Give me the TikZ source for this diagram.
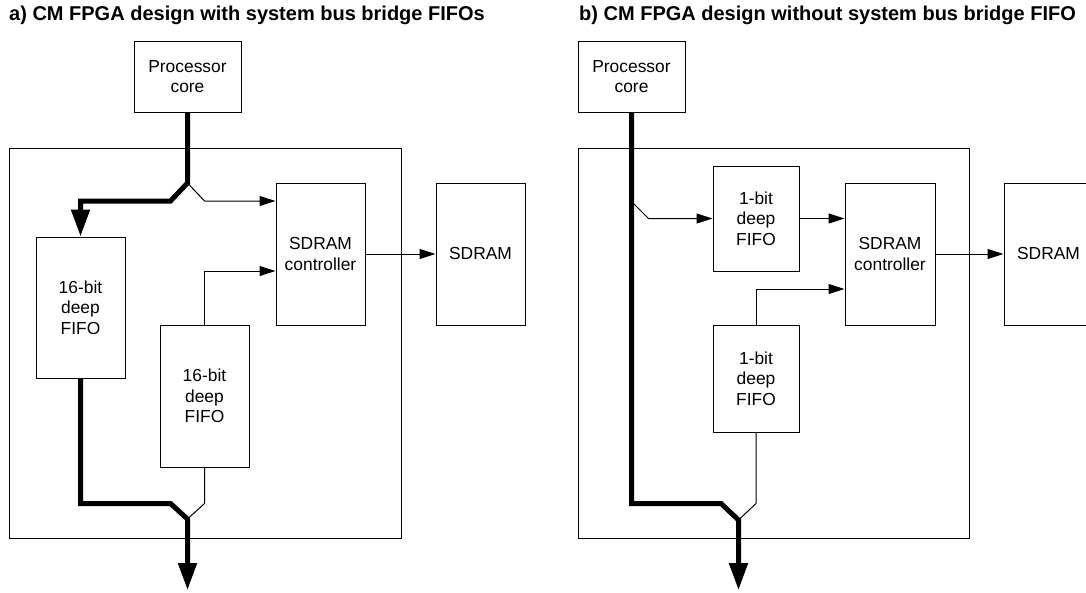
\documentclass[tikz,border=0pt]{standalone}
\usepackage{fontspec}
\setmainfont{Liberation Sans}
\usetikzlibrary{arrows.meta}

\begin{document}
\begin{tikzpicture}[x=1pt, y=-1pt,
    blk/.style={draw, rectangle, line width=1pt, inner sep=0pt, align=center,
        font=\fontsize{17.4}{20.5}\selectfont},
    ttl/.style={anchor=base west, inner sep=0pt, font=\bfseries\fontsize{20}{24}\selectfont},
    sig/.style={line width=1pt},
    bus/.style={line width=5pt},
    sigtip/.style={-{Triangle[length=16pt,width=10pt]}},
    bustip/.style={-{Triangle[length=27pt,width=18pt]}}]
    \path[use as bounding box, clip] (0,0) rectangle (1086,592);

    % a) with the bridge FIFOs
    \node[ttl] (ttlA) at (9,20) {a) CM FPGA design with system bus bridge FIFOs};
    \node[blk, minimum width=392pt, minimum height=390pt] (fpgaA) at (205,343) {};
    \node[blk, minimum width=107pt, minimum height=71pt] (procA) at (187.5,76.5) {Processor\\core};
    \node[blk, minimum width=89pt, minimum height=141pt] (fifoA1) at (80.5,307.5) {16-bit\\deep\\FIFO};
    \node[blk, minimum width=89pt, minimum height=142pt] (fifoA2) at (204.5,396) {16-bit\\deep\\FIFO};
    \node[blk, minimum width=89pt, minimum height=142pt] (ctrlA) at (320.5,254) {SDRAM\\controller};
    \node[blk, minimum width=89pt, minimum height=142pt] (ramA) at (480.5,254) {SDRAM};

    \coordinate (splitA) at (187.5,183);
    \coordinate (joinA) at (187.5,519);
    \coordinate (outA) at (187.5,590);

    \draw[bus, bustip] (procA.south) -- (splitA) -- ++(-17,18) -| (fifoA1.north);
    \draw[sig, sigtip] (splitA) -- ++(17,18) coordinate (tapA) -- (tapA -| ctrlA.west);
    \draw[sig, sigtip] (fifoA2.north) |- ([yshift=-17pt]ctrlA.west);
    \draw[sig, sigtip] (ctrlA.east) -- (ramA.west);
    % merge back onto the bus
    \draw[bus, bustip] (fifoA1.south) -- ++(0,125) -- ++(90,0) -- (joinA) -- (outA);
    \draw[sig] (fifoA2.south) -- ++(0,36) -- (joinA);

    % b) without them
    \node[ttl] (ttlB) at (579,20) {b) CM FPGA design without system bus bridge FIFO};
    \node[blk, minimum width=391pt, minimum height=390pt] (fpgaB) at (773.5,343) {};
    \node[blk, minimum width=107pt, minimum height=71pt] (procB) at (631.5,76.5) {Processor\\core};
    \node[blk, minimum width=86pt, minimum height=105pt] (fifoB1) at (756,218.5) {1-bit\\deep\\FIFO};
    \node[blk, minimum width=86pt, minimum height=107pt] (fifoB2) at (756,378.5) {1-bit\\deep\\FIFO};
    \node[blk, minimum width=90pt, minimum height=142pt] (ctrlB) at (890,254) {SDRAM\\controller};
    \node[blk, minimum width=89pt, minimum height=142pt] (ramB) at (1048.5,254) {SDRAM};

    \coordinate (tapB) at (631.5,201.5);
    \coordinate (joinB) at (738.5,520);
    \coordinate (outB) at (738.5,590);

    \draw[bus, bustip] (procB.south) -- ++(0,391) -- ++(89.5,0) -- (joinB) -- (outB);
    \draw[sig, sigtip] (tapB) -- ++(17,17) -- (fifoB1.west);
    \draw[sig, sigtip] (fifoB1.east) -- (fifoB1.east -| ctrlB.west);
    \draw[sig, sigtip] (fifoB2.north) |- ([yshift=-35pt]ctrlB.west);
    \draw[sig, sigtip] (ctrlB.east) -- (ramB.west);
    \draw[sig] (fifoB2.south) -- ++(0,71) -- (joinB);
\end{tikzpicture}
\end{document}
